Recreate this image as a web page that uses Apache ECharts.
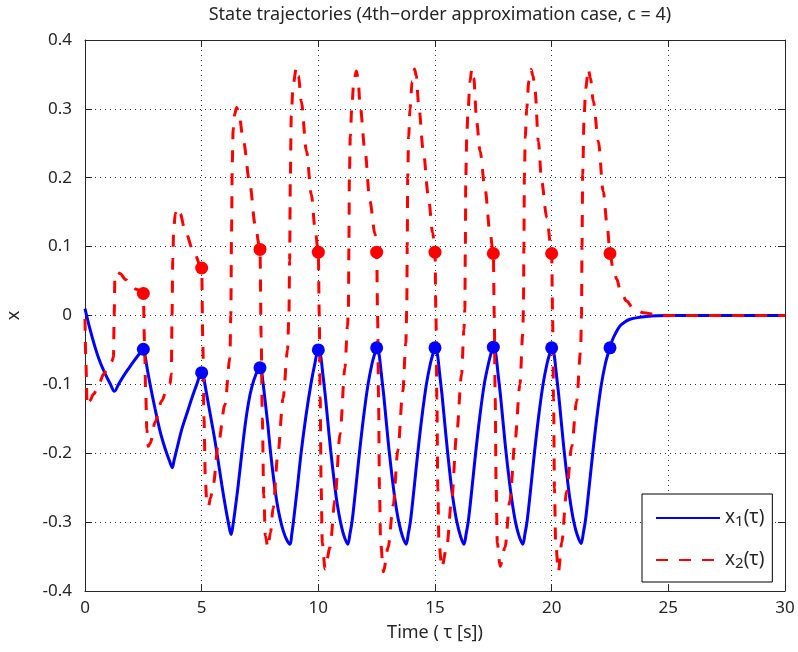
<!DOCTYPE html>
<html><head><meta charset="utf-8">
<script src="https://cdn.jsdelivr.net/npm/echarts@6/dist/echarts.min.js"></script>
<style>html,body{margin:0;padding:0;background:#fff}#c{width:798px;height:652px}</style>
</head><body><div id="c"></div>
<script>
// ---------- data ----------
const titleText = 'State trajectories (4th\u2212order approximation case, c = 4)';
const xAxisName = 'Time ( \u03c4 [s])';
const yAxisName = 'x';
const seriesNames = ['x1', 'x2'];

// sampling instants (markers)
const sampleTimes = [2.5, 5, 7.5, 10, 12.5, 15, 17.5, 20, 22.5];
const x1Samples = [-0.049, -0.083, -0.076, -0.050, -0.047, -0.047, -0.046, -0.047, -0.047];
const x2Samples = [0.032, 0.069, 0.096, 0.092, 0.092, 0.092, 0.090, 0.090, 0.090];

// x1(tau) trajectory [t, value]
const x1Points = [
  [0,0.010],[0.2,-0.018],[0.44,-0.047],[0.65,-0.068],[0.87,-0.085],[1.08,-0.099],[1.26,-0.110],
  [1.45,-0.099],[1.65,-0.088],[1.87,-0.077],[2.1,-0.066],[2.3,-0.057],[2.5,-0.049],
  [2.58,-0.060],[2.68,-0.080],[2.79,-0.100],[3.0,-0.135],[3.21,-0.167],[3.45,-0.195],[3.62,-0.211],[3.74,-0.221],
  [3.82,-0.210],[3.95,-0.192],[4.15,-0.165],[4.36,-0.143],[4.6,-0.118],[4.79,-0.100],[5.0,-0.083],
  [5.06,-0.085],[5.14,-0.100],[5.29,-0.129],[5.43,-0.155],[5.57,-0.182],[5.72,-0.214],[5.86,-0.245],[6.0,-0.274],[6.14,-0.300],[6.26,-0.318],
  [6.36,-0.300],[6.46,-0.275],[6.57,-0.245],[6.72,-0.200],[6.86,-0.160],[7.0,-0.128],[7.14,-0.105],[7.32,-0.086],[7.5,-0.076],
  [7.56,-0.080],[7.62,-0.095],[7.72,-0.124],[7.84,-0.160],[7.95,-0.198],[8.08,-0.236],[8.22,-0.270],[8.36,-0.295],[8.5,-0.313],[8.65,-0.326],[8.79,-0.332],
  [8.86,-0.318],[8.93,-0.300],[9.1,-0.250],[9.26,-0.200],[9.46,-0.148],[9.68,-0.100],[9.85,-0.070],[10.0,-0.050],
  [10.06,-0.053],[10.12,-0.063],[10.2,-0.087],[10.3,-0.117],[10.4,-0.152],[10.53,-0.196],[10.71,-0.249],[10.82,-0.276],[10.95,-0.300],[11.1,-0.320],[11.26,-0.332],
  [11.36,-0.316],[11.45,-0.298],[11.6,-0.252],[11.76,-0.200],[11.94,-0.147],[12.13,-0.100],[12.3,-0.070],[12.42,-0.055],[12.5,-0.047],
  [12.56,-0.050],[12.62,-0.060],[12.7,-0.085],[12.8,-0.115],[12.9,-0.150],[13.03,-0.195],[13.21,-0.248],[13.32,-0.275],[13.45,-0.300],[13.6,-0.320],[13.76,-0.332],
  [13.86,-0.316],[13.95,-0.298],[14.1,-0.252],[14.26,-0.200],[14.44,-0.147],[14.63,-0.100],[14.8,-0.070],[14.92,-0.055],[15.0,-0.047],
  [15.06,-0.050],[15.12,-0.060],[15.2,-0.085],[15.3,-0.115],[15.4,-0.150],[15.53,-0.195],[15.7,-0.248],[15.81,-0.275],[15.94,-0.300],[16.09,-0.320],[16.24,-0.332],
  [16.34,-0.316],[16.43,-0.298],[16.58,-0.252],[16.74,-0.200],[16.92,-0.147],[17.11,-0.100],[17.29,-0.070],[17.41,-0.054],[17.5,-0.046],
  [17.56,-0.049],[17.62,-0.059],[17.7,-0.084],[17.8,-0.114],[17.9,-0.149],[18.03,-0.194],[18.21,-0.247],[18.32,-0.274],[18.45,-0.300],[18.6,-0.320],[18.76,-0.332],
  [18.86,-0.316],[18.95,-0.298],[19.1,-0.252],[19.26,-0.200],[19.44,-0.147],[19.63,-0.100],[19.8,-0.070],[19.92,-0.055],[20.0,-0.047],
  [20.06,-0.050],[20.12,-0.060],[20.2,-0.085],[20.3,-0.115],[20.4,-0.150],[20.53,-0.195],[20.71,-0.248],[20.82,-0.275],[20.95,-0.300],[21.1,-0.319],[21.26,-0.331],
  [21.36,-0.315],[21.45,-0.297],[21.6,-0.251],[21.76,-0.200],[21.94,-0.147],[22.13,-0.100],[22.3,-0.070],[22.42,-0.055],[22.5,-0.047],
  [22.6,-0.036],[22.72,-0.027],[22.93,-0.015],[23.15,-0.009],[23.36,-0.0055],[23.7,-0.003],[24.07,-0.0015],[24.5,-0.0005],[25,0],[30,0]
];

// x2(tau) trajectory [t, value]
const x2Points = [
  [0,-0.005],[0.04,-0.070],[0.09,-0.131],[0.2,-0.124],[0.37,-0.114],[0.6,-0.099],[0.8,-0.085],[1.0,-0.074],[1.16,-0.066],[1.22,-0.060],
  [1.25,0.0],[1.28,0.055],[1.35,0.063],[1.5,0.061],[1.75,0.052],[1.94,0.045],[2.2,0.038],[2.5,0.032],
  [2.55,-0.040],[2.6,-0.110],[2.65,-0.165],[2.71,-0.190],[2.8,-0.185],[3.0,-0.155],[3.29,-0.124],[3.5,-0.108],[3.64,-0.100],[3.7,-0.085],
  [3.73,0.0],[3.76,0.080],[3.8,0.125],[3.87,0.148],[3.97,0.156],[4.08,0.148],[4.29,0.123],[4.64,0.094],[5.0,0.069],
  [5.05,-0.040],[5.1,-0.150],[5.16,-0.240],[5.22,-0.272],[5.29,-0.277],[5.38,-0.265],[5.5,-0.245],[5.71,-0.187],[6.0,-0.129],[6.21,-0.061],
  [6.25,0.0],[6.28,0.120],[6.31,0.220],[6.35,0.270],[6.42,0.293],[6.5,0.302],[6.6,0.292],[6.79,0.253],[7.07,0.190],[7.29,0.132],[7.5,0.096],
  [7.55,-0.030],[7.6,-0.150],[7.66,-0.260],[7.73,-0.320],[7.84,-0.337],[7.95,-0.315],[8.06,-0.280],[8.27,-0.200],[8.49,-0.120],[8.68,-0.050],
  [8.74,0.0],[8.77,0.080],[8.8,0.200],[8.84,0.290],[8.92,0.335],[9.06,0.360],[9.15,0.348],[9.27,0.311],[9.49,0.239],[9.7,0.176],[9.87,0.123],[10.0,0.091],
  [10.04,0.0],[10.08,-0.120],[10.12,-0.250],[10.17,-0.330],[10.29,-0.368],[10.5,-0.337],[10.71,-0.269],[10.93,-0.172],[11.14,-0.076],[11.25,-0.015],
  [11.29,0.010],[11.31,0.100],[11.33,0.200],[11.37,0.260],[11.43,0.300],[11.52,0.340],[11.63,0.355],[11.7,0.345],[11.79,0.305],[12.0,0.239],[12.21,0.166],[12.43,0.118],[12.5,0.092],
  [12.54,0.0],[12.58,-0.120],[12.62,-0.250],[12.67,-0.330],[12.79,-0.372],[12.99,-0.337],[13.21,-0.275],[13.41,-0.195],[13.62,-0.110],[13.75,-0.040],
  [13.79,0.010],[13.81,0.100],[13.83,0.200],[13.87,0.260],[13.93,0.300],[14.02,0.340],[14.12,0.358],[14.2,0.348],[14.3,0.305],[14.5,0.239],[14.71,0.175],[14.9,0.120],[15.0,0.092],
  [15.04,0.0],[15.08,-0.120],[15.12,-0.250],[15.17,-0.330],[15.29,-0.366],[15.5,-0.337],[15.71,-0.269],[15.93,-0.172],[16.14,-0.085],[16.24,-0.020],
  [16.28,0.010],[16.3,0.100],[16.32,0.200],[16.36,0.260],[16.42,0.300],[16.5,0.340],[16.58,0.358],[16.66,0.345],[16.79,0.280],[16.93,0.239],[17.14,0.185],[17.36,0.120],[17.5,0.090],
  [17.54,0.0],[17.58,-0.120],[17.62,-0.250],[17.67,-0.330],[17.79,-0.364],[18.0,-0.337],[18.21,-0.269],[18.43,-0.182],[18.64,-0.100],[18.76,-0.027],
  [18.79,0.010],[18.81,0.100],[18.83,0.200],[18.87,0.260],[18.93,0.300],[19.02,0.340],[19.12,0.357],[19.2,0.348],[19.29,0.326],[19.43,0.253],[19.57,0.195],[19.79,0.142],[20.0,0.090],
  [20.04,0.0],[20.08,-0.120],[20.12,-0.250],[20.17,-0.330],[20.29,-0.372],[20.43,-0.330],[20.64,-0.255],[20.86,-0.190],[21.07,-0.124],[21.24,-0.052],
  [21.28,0.0],[21.3,0.100],[21.33,0.205],[21.39,0.290],[21.46,0.330],[21.57,0.358],[21.66,0.345],[21.79,0.310],[22.0,0.253],[22.21,0.180],[22.39,0.127],[22.5,0.090],
  [22.62,0.070],[22.79,0.053],[22.93,0.038],[23.21,0.021],[23.5,0.010],[23.93,0.004],[24.5,0.001],[25,0],[30,0]
];

const xTicks = {min: 0, max: 30, step: 5};
const yTicks = {min: -0.4, max: 0.4, step: 0.1};

// ---------- chart ----------
const FONT = '"Noto Sans", "DejaVu Sans", sans-serif';
const TXT = '#262626';
const AX = '#262626';
const BLUE = '#0000ff';
const RED = '#ff0000';

const fmt = v => { const r = Math.round(v * 10) / 10; return r === 0 ? '0' : String(r); };

const axisCommon = {
  type: 'value',
  axisLine: {show: true, onZero: false, lineStyle: {color: AX, width: 1}},
  axisTick: {show: true, inside: true, length: 7, lineStyle: {color: AX, width: 1}},
};

const chart = echarts.init(document.getElementById('c'), null, {renderer: 'canvas'});
chart.setOption({
  animation: false,
  backgroundColor: '#fff',
  title: {
    text: titleText, left: 435, top: 1, textAlign: 'center',
    textStyle: {fontFamily: FONT, fontSize: 18, fontWeight: 'normal', color: TXT}
  },
  grid: {left: 85, right: 13, top: 40, bottom: 61, containLabel: false, outerBoundsMode: 'none'},
  xAxis: [
    Object.assign({}, axisCommon, {
      min: xTicks.min, max: xTicks.max, interval: xTicks.step, position: 'bottom',
      axisLabel: {margin: 9, fontFamily: FONT, fontSize: 17, color: TXT},
      splitLine: {show: true, lineStyle: {type: [1, 4], color: '#333', width: 1}},
      name: xAxisName, nameLocation: 'middle', nameGap: 33,
      nameTextStyle: {fontFamily: FONT, fontSize: 18, color: TXT}
    }),
    Object.assign({}, axisCommon, {
      min: xTicks.min, max: xTicks.max, interval: xTicks.step, position: 'top',
      axisLabel: {show: false}, splitLine: {show: false}
    })
  ],
  yAxis: [
    Object.assign({}, axisCommon, {
      min: yTicks.min, max: yTicks.max, interval: yTicks.step, position: 'left',
      axisLabel: {margin: 13, fontFamily: FONT, fontSize: 17, color: TXT, formatter: fmt},
      splitLine: {show: true, lineStyle: {type: [1, 4], color: '#333', width: 1}},
      name: yAxisName, nameLocation: 'middle', nameGap: 62, nameRotate: 90,
      nameTextStyle: {fontFamily: FONT, fontSize: 18, color: TXT}
    }),
    Object.assign({}, axisCommon, {
      min: yTicks.min, max: yTicks.max, interval: yTicks.step, position: 'right',
      axisLabel: {show: false}, splitLine: {show: false}
    })
  ],
  legend: {
    orient: 'vertical', left: 642, top: 494,
    backgroundColor: '#fff', borderColor: '#000', borderWidth: 1,
    padding: [13, 8, 11, 13],
    itemWidth: 64, itemHeight: 14, itemGap: 20,
    itemStyle: {opacity: 0},
    data: seriesNames,
    formatter: n => '{n|x}{s|' + n.slice(1) + '}{n|(\u03c4)}',
    textStyle: {
      fontFamily: FONT, fontSize: 19, color: TXT, lineHeight: 22,
      rich: {
        n: {fontFamily: FONT, fontSize: 19, color: TXT, lineHeight: 22, verticalAlign: 'middle'},
        s: {fontFamily: FONT, fontSize: 15, color: TXT, lineHeight: 8, verticalAlign: 'bottom'}
      }
    }
  },
  series: [
    {
      name: seriesNames[0], type: 'line', data: x1Points, xAxisIndex: 0, yAxisIndex: 0,
      showSymbol: false, symbol: 'none', smooth: 0.35,
      lineStyle: {color: BLUE, width: 3}, itemStyle: {color: BLUE}, z: 2
    },
    {
      name: seriesNames[1], type: 'line', data: x2Points, xAxisIndex: 0, yAxisIndex: 0,
      showSymbol: false, symbol: 'none', smooth: 0.3, smoothMonotone: 'x',
      lineStyle: {color: RED, width: 3, type: [12, 11]}, itemStyle: {color: RED}, z: 3
    },
    {
      type: 'scatter', data: sampleTimes.map((t, i) => [t, x1Samples[i]]),
      symbol: 'circle', symbolSize: 13, itemStyle: {color: BLUE, opacity: 1}, z: 4, silent: true
    },
    {
      type: 'scatter', data: sampleTimes.map((t, i) => [t, x2Samples[i]]),
      symbol: 'circle', symbolSize: 13, itemStyle: {color: RED, opacity: 1}, z: 4, silent: true
    }
  ]
});
</script>
</body></html>
